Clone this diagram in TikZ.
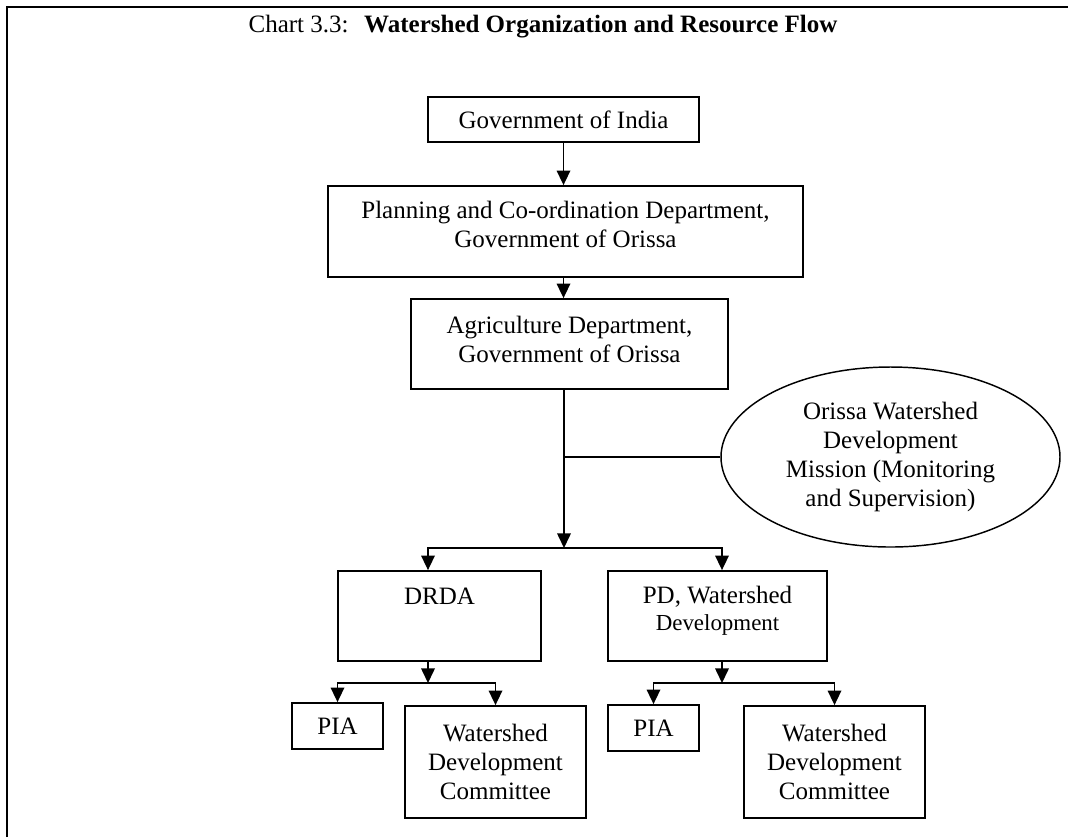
\documentclass[tikz,border=0pt]{standalone}
\usepackage{fontspec}
\setmainfont{Liberation Serif}
\usetikzlibrary{arrows.meta,shapes.geometric}

\tikzset{
  box/.style={draw, line width=0.85pt, inner sep=0pt, align=center},
  sz/.style 2 args={minimum width=#1*0.48pt, minimum height=#2*0.48pt},
  txt/.style={inner sep=0pt, align=center},
  arr/.style={line width=0.8pt, -{Triangle[length=7pt,width=6.5pt]}},
  link/.style={line width=0.8pt}
}

\begin{document}
\begin{tikzpicture}[x=0.48pt, y=-0.48pt, font=\fontsize{12}{13.8}\selectfont]
\useasboundingbox (0,0) rectangle (1068,837);

% Frame (top and left edges)
\draw[line width=1.3pt] (7,837) -- (7,7) -- (1068,7);

% Title
\node[anchor=base] (title) at (543,32)
  {Chart 3.3:\hspace{7.5pt}\textbf{Watershed Organization and Resource Flow}};

% State level
\node[box, sz={271}{45}] (goi) at (563.5,119.5) {Government of India};
\node[box, sz={475}{91}] (plan) at (565.5,231.5) {};
\node[txt, anchor=north] (plantxt) at (565.5,201)
  {Planning and Co-ordination Department,\\Government of Orissa};
\node[box, sz={317}{90}] (agri) at (569.5,344) {};
\node[txt, anchor=north] (agritxt) at (569.5,316)
  {Agriculture Department,\\Government of Orissa};

% Mission (ellipse)
\node[ellipse, draw, line width=0.7pt, sz={339}{180}, inner sep=0pt, align=center]
  (owdm) at (890.5,457)
  {Orissa Watershed\\Development\\Mission (Monitoring\\and Supervision)};

% District level
\node[box, sz={203}{90}] (drda) at (439.5,616) {};
\node[txt, anchor=base] (drdatxt) at (439.5,604) {DRDA};
\node[box, sz={219}{90}] (pd) at (717.5,616) {};
\node[txt, anchor=north] (pdtxt) at (717.5,586)
  {PD, Watershed\\[-0.8pt]{\fontsize{11}{12.65}\selectfont Development}};

% Field level
\node[box, sz={91}{46}] (piaL) at (337.5,726) {PIA};
\node[box, sz={181}{112}] (wdcL) at (495.5,762) {Watershed\\Development\\Committee};
\node[box, sz={91}{46}] (piaR) at (653.5,728) {PIA};
\node[box, sz={181}{112}] (wdcR) at (834.5,762) {Watershed\\Development\\Committee};

% Junctions
\coordinate (jn) at (564,457);
\coordinate (hub) at (564,548);
\coordinate (dhub) at (428,683);
\coordinate (phub) at (722,683);

% Arrows
\draw[arr] (goi.south) -- (goi.south |- plan.north);
\draw[arr] (plan.south -| goi.south) -- (agri.north -| goi.south);
\draw[arr] (agri.south -| hub) -- (hub);
\draw[link] (jn) -- (owdm.west);
\draw[arr] (hub) -| (drda.north -| 428,0);
\draw[arr] (hub) -| (pd.north -| 722,0);

\draw[arr] (drda.south -| dhub) -- (dhub);
\draw[arr] (dhub) -| (piaL.north);
\draw[arr] (dhub) -| (wdcL.north);

\draw[arr] (pd.south -| phub) -- (phub);
\draw[arr] (phub) -| (piaR.north);
\draw[arr] (phub) -| (wdcR.north);

\end{tikzpicture}
\end{document}
